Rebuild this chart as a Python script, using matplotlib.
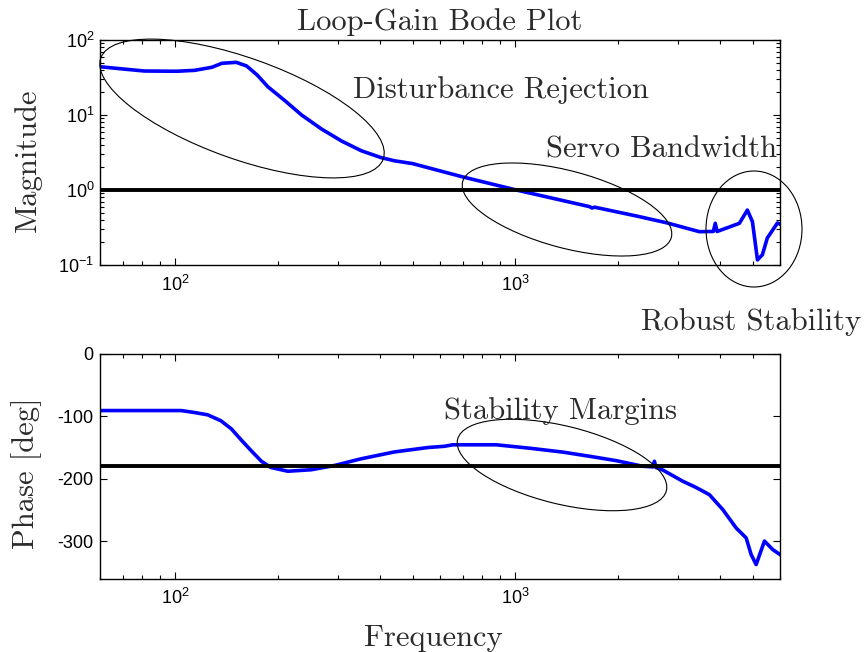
import numpy as np
import matplotlib
matplotlib.use('Agg')
import matplotlib.pyplot as plt
from matplotlib.patches import Ellipse
from matplotlib.transforms import Affine2D
from matplotlib.ticker import LogLocator, NullFormatter

plt.rcParams['axes.unicode_minus'] = False
plt.rcParams['mathtext.default'] = 'regular'

# loop gain magnitude
mag_freq = [60, 72, 81, 101, 114, 128, 137, 151, 162, 174, 187, 210, 235, 269,
            308, 352, 403, 441, 498, 698, 1006, 1652, 1680, 1710, 2270, 2780,
            3476, 3820, 3870, 3920, 4257, 4558, 4810, 4978, 5151, 5325, 5506,
            5896, 6000]
mag = [44, 40.6, 38.6, 38.3, 39.4, 43.3, 48.9, 50.4, 45, 34.1, 23.8, 15.5, 10,
       6.5, 4.5, 3.34, 2.70, 2.45, 2.25, 1.50, 1.0, 0.60, 0.575, 0.59, 0.45,
       0.366, 0.278, 0.28, 0.36, 0.28, 0.321, 0.36, 0.54, 0.378, 0.117, 0.137,
       0.229, 0.363, 0.35]

# loop gain phase [deg]
ph_freq = [60, 104, 114, 124.5, 136, 146, 156, 167, 179, 191, 214, 251, 294,
           352, 441, 552, 618, 654, 878, 1099, 1377, 1652, 1978, 2366, 2540,
           2563, 2590, 2712, 3105, 3398, 3720, 4074, 4459, 4772, 4935, 5105,
           5400, 5712, 6000]
phase = [-90.7, -90.7, -93.9, -97.6, -107, -120, -137.6, -155, -172, -182,
         -188, -185.6, -178.7, -168, -157, -150, -148, -145.6, -145.6, -151,
         -157.3, -164, -171, -180, -181, -172, -182, -186, -204, -214, -225.6,
         -249.6, -279, -295, -321.6, -337.6, -300, -313.6, -321.6]

serif = 'cmr10'
txt_col = '#2b2b2b'
W, H = 866, 652

fig = plt.figure(figsize=(W / 100, H / 100), dpi=100)
ax1 = fig.add_axes([100 / W, 1 - 265 / H, 680 / W, 225 / H])
ax2 = fig.add_axes([100 / W, 1 - 578.5 / H, 680 / W, 224.5 / H])

ax1.loglog(mag_freq, mag, color='#0000ff', lw=2.6)
ax1.axhline(1, color='k', lw=2.8)
ax1.set_ylim(0.1, 100)

ax2.semilogx(ph_freq, phase, color='#0000ff', lw=2.6)
ax2.axhline(-180, color='k', lw=2.8)
ax2.set_ylim(-360, 0)
ax2.set_yticks([0, -100, -200, -300])

for ax in (ax1, ax2):
    ax.set_xlim(60, 6000)
    ax.tick_params(which='both', direction='in', top=True, right=True,
                   labelsize=13, width=0.8)
    ax.tick_params(which='major', length=5)
    ax.tick_params(which='minor', length=3)
    ax.tick_params(axis='x', pad=7)
    ax.xaxis.set_minor_locator(LogLocator(base=10, subs=np.arange(2, 10), numticks=20))
    ax.xaxis.set_minor_formatter(NullFormatter())
    for lab in ax.get_xticklabels() + ax.get_yticklabels():
        lab.set_fontfamily('Liberation Sans')
    for s in ax.spines.values():
        s.set_linewidth(1.0)
ax1.yaxis.set_minor_locator(LogLocator(base=10, subs=np.arange(2, 10), numticks=20))
ax1.yaxis.set_minor_formatter(NullFormatter())
ax1.tick_params(axis='y', pad=4)
ax2.tick_params(axis='y', pad=5)

ax1.set_title('Loop-Gain Bode Plot', fontfamily=serif, fontsize=22,
              color=txt_col, pad=7.5)
ax1.set_ylabel('Magnitude', fontfamily=serif, fontsize=22, color=txt_col)
ax1.yaxis.set_label_coords(-0.085, 0.467)
ax2.set_ylabel('Phase [deg]', fontfamily=serif, fontsize=22, color=txt_col)
ax2.yaxis.set_label_coords(-0.085, 0.469)
ax2.set_xlabel('Frequency', fontfamily=serif, fontsize=22, color=txt_col,
               x=0.49, labelpad=12)

# annotations, placed in pixel units of the 866x652 figure
px = Affine2D().scale(1, -1).translate(0, H)


def note(x, y, s):
    fig.text(x / W, 1 - y / H, s, ha='center', va='baseline',
             fontfamily=serif, fontsize=22, color=txt_col)


def ring(cx, cy, w, h, ang):
    fig.add_artist(Ellipse((cx, cy), w, h, angle=ang, fill=False,
                           edgecolor='k', lw=0.8, transform=px))


note(501, 98, 'Disturbance Rejection')
note(662, 157, 'Servo Bandwidth')
note(751, 330, 'Robust Stability')
note(561, 419, 'Stability Margins')

ring(242, 108.5, 300, 101, 19.7)
ring(567, 209.5, 216, 77, 15)
ring(754, 229, 96, 116, 0)
ring(562, 465, 215, 78, 13.8)

fig.savefig('out.png', dpi=100)
